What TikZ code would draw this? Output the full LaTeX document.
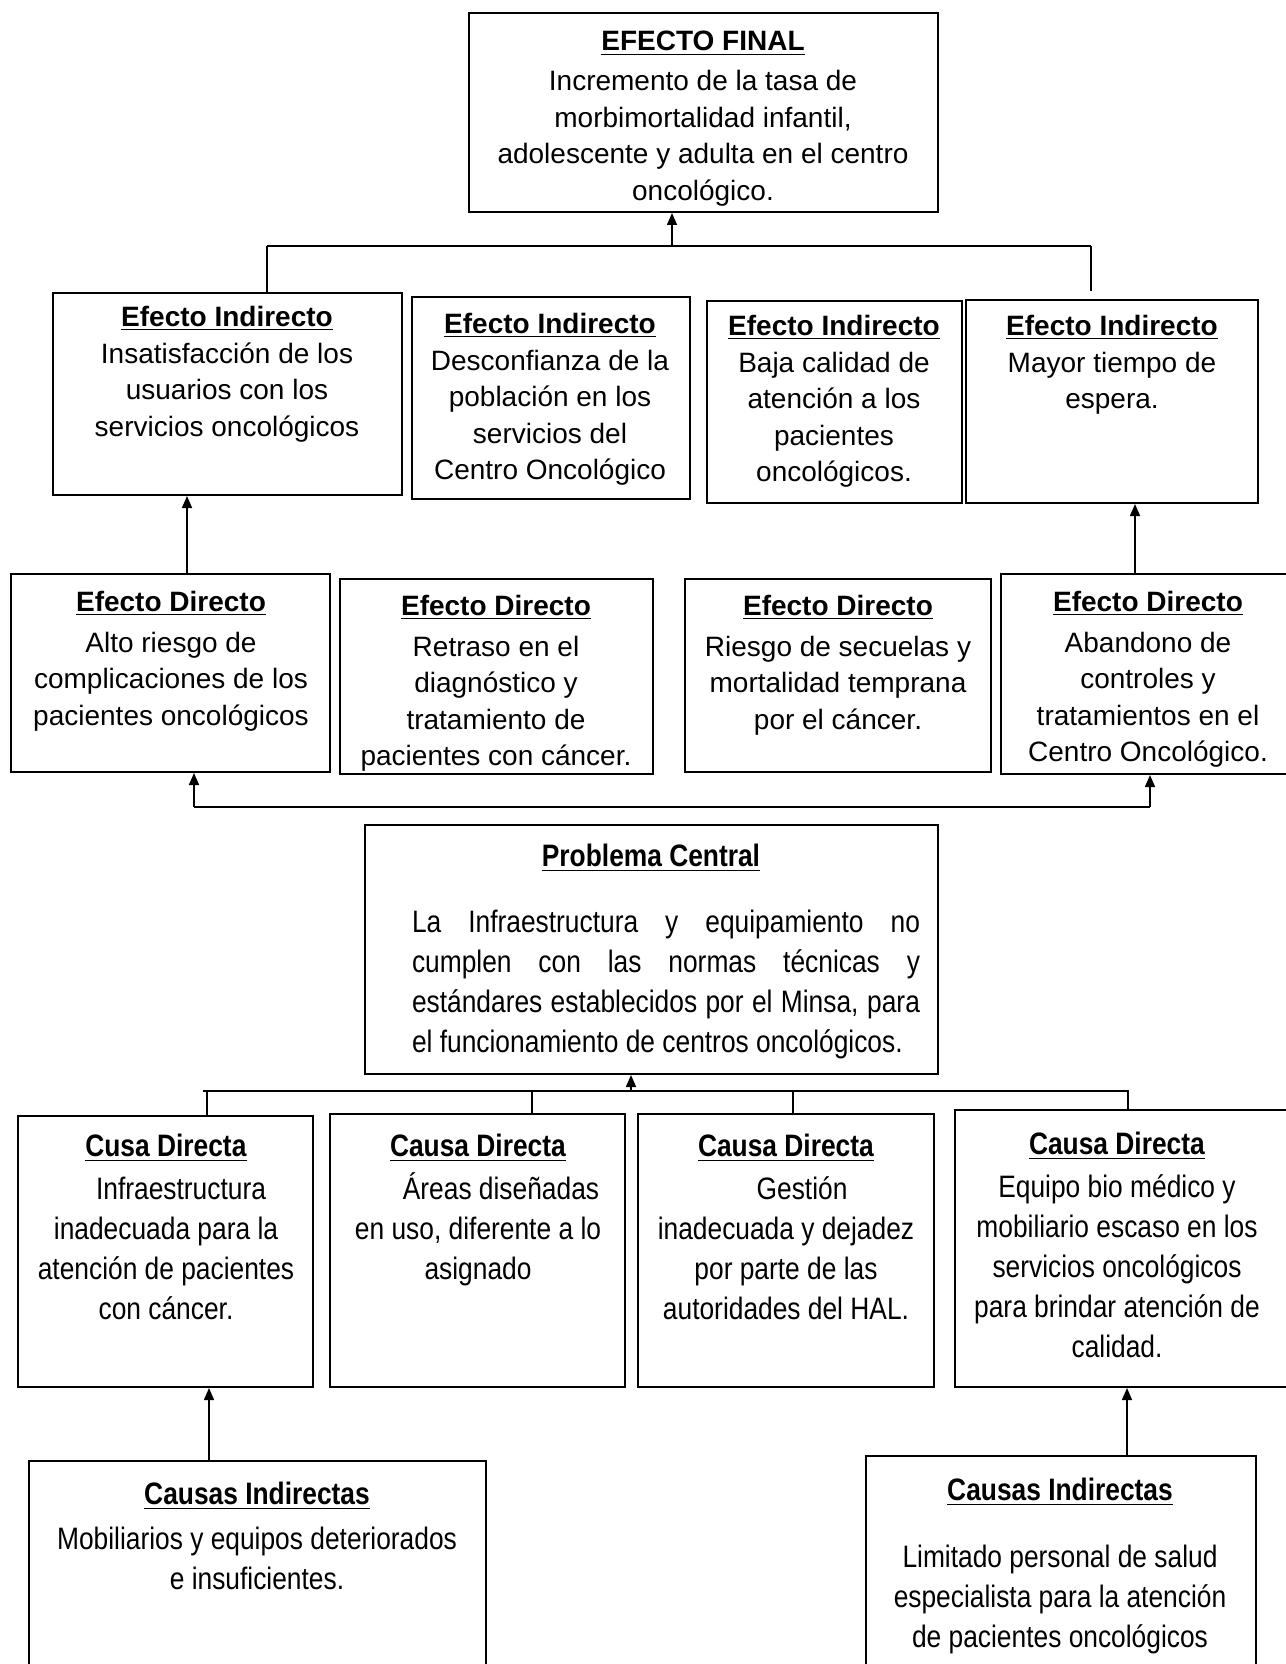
\documentclass[tikz,border=0pt]{standalone}
\usepackage{fontspec}
\setmainfont{Liberation Sans}
\newfontfamily\narrowsans[FakeStretch=0.85]{Liberation Sans}
\usetikzlibrary{positioning, fit, arrows.meta}
\newcommand{\titulo}[1]{\underline{\textbf{#1}}}

\begin{document}
\begin{tikzpicture}[
		x=0.5pt, y=-0.5pt,
		>={Triangle[length=6pt, width=5pt]},
		box/.style={draw, rectangle, line width=1pt, inner sep=0pt},
		etext/.style={anchor=north, align=center, inner sep=0pt, font=\fontsize{14}{18.25}\selectfont},
		ctext/.style={anchor=north, align=center, inner sep=0pt, font=\narrowsans\fontsize{15.5}{20}\selectfont},
		link/.style={line width=0.8pt},
		bar/.style={line width=1.3pt},
	]
	\useasboundingbox (0,0) rectangle (1285,1664);

	\node[box, fit={(469,13) (938,212)}] (ef) {};
	\node[box, fit={(53,293) (402,495)}] (ei1) {};
	\node[box, fit={(412,297) (690,499)}] (ei2) {};
	\node[box, fit={(707,301) (962,503)}] (ei3) {};
	\node[box, fit={(966,300) (1258,503)}] (ei4) {};
	\node[box, fit={(11,574) (330,772)}] (ed1) {};
	\node[box, fit={(340,579) (653,774)}] (ed2) {};
	\node[box, fit={(685,579) (991,772)}] (ed3) {};
	\node[box, fit={(1001,574) (1292,774)}] (ed4) {};
	\node[box, fit={(365,825) (938,1074)}] (pc) {};
	\node[box, fit={(18,1116) (313,1387)}] (cd1) {};
	\node[box, fit={(330,1114) (625,1387)}] (cd2) {};
	\node[box, fit={(638,1114) (934,1387)}] (cd3) {};
	\node[box, fit={(955,1110) (1292,1387)}] (cd4) {};
	\node[box, fit={(29,1461) (486,1690)}] (ci1) {};
	\node[box, fit={(866,1456) (1256,1690)}] (ci2) {};

	\node[etext] (eft) at (703,31) {\titulo{EFECTO FINAL}\\[1.75pt] Incremento de la tasa de\\ morbimortalidad infantil,\\ adolescente y adulta en el centro\\ oncológico.};
	\node[etext] (ei1t) at (227,306) {\titulo{Efecto Indirecto}\\ Insatisfacción de los\\ usuarios con los\\ servicios oncológicos};
	\node[etext] (ei2t) at (550,313) {\titulo{Efecto Indirecto}\\ Desconfianza de la\\ población en los\\ servicios del\\ Centro Oncológico};
	\node[etext] (ei3t) at (834,315) {\titulo{Efecto Indirecto}\\ Baja calidad de\\ atención a los\\ pacientes\\ oncológicos.};
	\node[etext] (ei4t) at (1112,315) {\titulo{Efecto Indirecto}\\ Mayor tiempo de\\ espera.};
	\node[etext] (ed1t) at (171,591) {\titulo{Efecto Directo}\\[2pt] Alto riesgo de\\ complicaciones de los\\ pacientes oncológicos};
	\node[etext] (ed2t) at (496,595) {\titulo{Efecto Directo}\\[2pt] Retraso en el\\ diagnóstico y\\ tratamiento de\\ pacientes con cáncer.};
	\node[etext] (ed3t) at (838,595) {\titulo{Efecto Directo}\\[2pt] Riesgo de secuelas y\\ mortalidad temprana\\ por el cáncer.};
	\node[etext] (ed4t) at (1148,591) {\titulo{Efecto Directo}\\[2pt] Abandono de\\ controles y\\ tratamientos en el\\ Centro Oncológico.};

	\node[ctext, align=justify, text width=254pt] (pct) at (666,844) {\noindent\makebox[\linewidth]{\titulo{Problema Central}\hspace*{15pt}}\\[12.7pt] La Infraestructura y equipamiento no\linebreak cumplen con las normas técnicas y\linebreak estándares establecidos por el Minsa, para\linebreak el funcionamiento de centros oncológicos.};
	\node[ctext] (cd1t) at (166,1134) {\titulo{Cusa Directa}\\[1.5pt] \hspace*{15pt}Infraestructura\\ inadecuada para la\\ atención de pacientes\\ con cáncer.};
	\node[ctext] (cd2t) at (478,1134) {\titulo{Causa Directa}\\[1.5pt] \hspace*{23pt}Áreas diseñadas\\ en uso, diferente a lo\\ asignado};
	\node[ctext] (cd3t) at (786,1134) {\titulo{Causa Directa}\\[1.5pt] \hspace*{16pt}Gestión\\ inadecuada y dejadez\\ por parte de las\\ autoridades del HAL.};
	\node[ctext] (cd4t) at (1117,1132) {\titulo{Causa Directa}\\[1.5pt] Equipo bio médico y\\ mobiliario escaso en los\\ servicios oncológicos\\ para brindar atención de\\ calidad.};
	\node[ctext] (ci1t) at (257,1482) {\titulo{Causas Indirectas}\\[2.5pt] Mobiliarios y equipos deteriorados\\ e insuficientes.};
	\node[ctext] (ci2t) at (1060,1478) {\titulo{Causas Indirectas}\\[13.5pt] Limitado personal de salud\\ especialista para la atención\\ de pacientes oncológicos};

	\coordinate (tl) at (267,246);
	\coordinate (tm) at (672,246);
	\coordinate (tr) at (1091,246);
	\draw[bar] (tl) -- (tr);
	\draw[link, ->] (tm) -- (tm |- ef.south);
	\draw[link] (tl) -- (tl |- ei1.north);
	\draw[link] (tr) -- ([yshift=4pt]tr |- ei4.north);

	\draw[link, ->] ([xshift=8.25pt]ed1.north) -- ([xshift=8.25pt]ed1.north |- ei1.south);
	\draw[link, ->] ([xshift=-5.75pt]ed4.north) -- ([xshift=-5.75pt]ed4.north |- ei4.south);

	\coordinate (ml) at (194,807);
	\coordinate (mr) at (1150,807);
	\draw[bar] (ml) -- (mr);
	\draw[link, ->] (ml) -- (ml |- ed1.south);
	\draw[link, ->] (mr) -- (mr |- ed4.south);

	\coordinate (cl) at (203,1091);
	\coordinate (cm) at (631,1091);
	\coordinate (cr) at (1129,1091);
	\draw[bar] (cl) -- (cr);
	\draw[link, ->] (cm) -- (cm |- pc.south);
	\foreach \b/\s in {cd1/20.75pt, cd2/27.25pt, cd3/3.5pt, cd4/2.25pt}
		\draw[link] ([xshift=\s]\b.north) -- ([xshift=\s]\b.north |- cl);

	\draw[link, ->] ([xshift=-24.25pt]ci1.north) -- ([xshift=-24.25pt]ci1.north |- cd1.south);
	\draw[link, ->] ([xshift=33pt]ci2.north) -- ([xshift=33pt]ci2.north |- cd4.south);
\end{tikzpicture}
\end{document}
